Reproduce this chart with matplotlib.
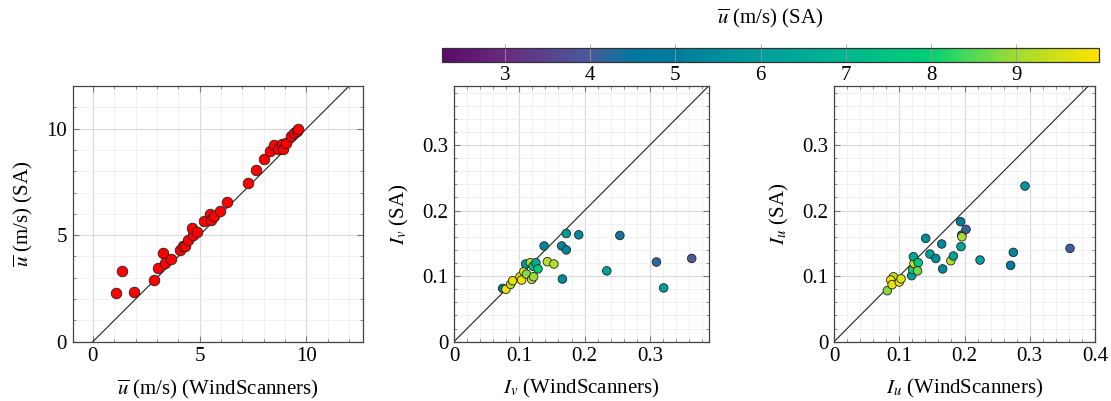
import numpy as np
import matplotlib
matplotlib.use('Agg')
from matplotlib import pyplot as plt
from matplotlib.colors import LinearSegmentedColormap, Normalize
from matplotlib.ticker import MultipleLocator

plt.rcParams['font.family'] = ['Liberation Serif', 'DejaVu Serif']
plt.rcParams['mathtext.fontset'] = 'stix'
plt.rcParams['font.size'] = 15

# mean wind speed, WindScanners vs sonic anemometer (SA)
u_ws = [1.07, 1.35, 1.91, 2.85, 3.06, 3.29, 3.40, 3.68, 4.08, 4.20, 4.31, 4.44,
        4.67, 4.65, 4.86, 5.20, 5.49, 5.52, 5.67, 5.93, 6.27, 7.24, 7.65, 8.02,
        8.28, 8.46, 8.65, 8.86, 8.90, 9.06, 9.28, 9.40, 9.56, 9.59]
u_sa = [2.28, 3.30, 2.35, 2.90, 3.45, 4.16, 3.69, 3.88, 4.32, 4.47, 4.50, 4.76,
        5.02, 5.32, 5.13, 5.65, 6.01, 5.73, 5.92, 6.12, 6.55, 7.46, 8.08, 8.59,
        8.95, 9.25, 9.03, 9.26, 9.03, 9.31, 9.65, 9.80, 9.89, 9.97]

# lateral turbulence intensity, colour = mean speed SA
iv_ws = [0.0745, 0.0796, 0.0867, 0.0898, 0.101, 0.1036, 0.107, 0.1097, 0.111, 0.117,
         0.119, 0.121, 0.122, 0.1255, 0.1286, 0.138, 0.143, 0.153, 0.165, 0.166,
         0.172, 0.172, 0.191, 0.234, 0.254, 0.310, 0.321, 0.364]
iv_sa = [0.0813, 0.080, 0.0874, 0.093, 0.099, 0.094, 0.1068, 0.1185, 0.103, 0.1205,
         0.095, 0.115, 0.099, 0.1205, 0.111, 0.146, 0.122, 0.1185, 0.146, 0.0956,
         0.165, 0.140, 0.163, 0.108, 0.162, 0.1215, 0.082, 0.127]
iv_c = [5.0, 9.8, 9.3, 9.7, 9.6, 9.8, 9.7, 5.8, 8.8, 9.2,
        9.3, 7.5, 9.0, 6.5, 7.8, 5.3, 9.2, 9.2, 5.3, 5.4,
        5.8, 5.3, 5.4, 6.2, 4.4, 4.2, 6.0, 4.0]

# longitudinal turbulence intensity
iu_ws = [0.0817, 0.0899, 0.091, 0.0869, 0.089, 0.100, 0.1027, 0.119, 0.1206, 0.1226,
         0.1216, 0.129, 0.128, 0.1405, 0.147, 0.156, 0.165, 0.1665, 0.179, 0.183,
         0.194, 0.1946, 0.1957, 0.196, 0.2023, 0.2238, 0.2707, 0.2748, 0.2927, 0.3617]
iu_sa = [0.0778, 0.091, 0.099, 0.094, 0.087, 0.091, 0.096, 0.1007, 0.110, 0.1195,
         0.1296, 0.1205, 0.108, 0.1576, 0.1337, 0.127, 0.149, 0.111, 0.1235, 0.1307,
         0.183, 0.145, 0.1627, 0.160, 0.1713, 0.1245, 0.1164, 0.1362, 0.2374, 0.1423]
iu_c = [8.8, 9.6, 9.3, 9.8, 9.7, 9.7, 9.6, 6.2, 8.0, 9.5,
        6.5, 7.8, 8.7, 5.5, 6.1, 5.4, 5.3, 5.3, 9.2, 6.2,
        5.0, 6.3, 5.1, 9.1, 4.1, 6.0, 5.0, 5.3, 5.7, 4.1]

cmin, cmax = 2.26, 9.97
stops = [(2.26, '#5a0a6a'), (3.0, '#6a2a80'), (4.0, '#485a9c'), (4.5, '#00789f'),
         (5.0, '#007c9d'), (6.0, '#009e9c'), (7.0, '#00b690'), (8.0, '#00d074'),
         (8.3, '#30d862'), (9.0, '#a0dc30'), (9.97, '#ffe200')]
cmap = LinearSegmentedColormap.from_list(
    'pgfviridis', [((v - cmin) / (cmax - cmin), c) for v, c in stops])
norm = Normalize(cmin, cmax)

fig = plt.figure(figsize=(11.11, 4.01), dpi=100)
ax1 = fig.add_axes([0.0653, 0.1479, 0.2615, 0.6377])
ax2 = fig.add_axes([0.4086, 0.1479, 0.2293, 0.6377])
ax3 = fig.add_axes([0.7507, 0.1479, 0.2349, 0.6377])
cax = fig.add_axes([0.3976, 0.846, 0.5916, 0.0334])


def style(ax, major, minor):
    ax.xaxis.set_major_locator(MultipleLocator(major))
    ax.yaxis.set_major_locator(MultipleLocator(major))
    ax.xaxis.set_minor_locator(MultipleLocator(minor))
    ax.yaxis.set_minor_locator(MultipleLocator(minor))
    ax.grid(True, which='major', color='#dadada', lw=0.8)
    ax.grid(True, which='minor', color='#efefef', lw=0.6)
    ax.set_axisbelow(True)
    ax.tick_params(which='both', direction='in', top=True, right=True, color='#777777')
    ax.tick_params(which='major', length=4, labelsize=15, pad=4)
    ax.tick_params(which='minor', length=2.5)
    for s in ax.spines.values():
        s.set_color('#444444')
        s.set_linewidth(0.9)
    ax.xaxis.set_major_formatter(plt.FuncFormatter(lambda v, p: '%g' % round(v, 3)))
    ax.yaxis.set_major_formatter(plt.FuncFormatter(lambda v, p: '%g' % round(v, 3)))


style(ax1, 5, 1)
ax1.plot([0, 12], [0, 12], color='#222222', lw=0.8, zorder=2)
ax1.scatter(u_ws, u_sa, s=58, c='#ff0000', edgecolors='#222222', linewidths=0.6, zorder=3)
ax1.set_xlim(-0.95, 12.65)
ax1.set_ylim(0, 12)
ax1.set_xlabel(r'$\overline{u}$ (m/s) (WindScanners)', labelpad=8)
ax1.set_ylabel(r'$\overline{u}$ (m/s) (SA)', labelpad=8)

style(ax2, 0.1, 0.02)
ax2.plot([0, 0.4], [0, 0.4], color='#222222', lw=0.8, zorder=2)
ax2.scatter(iv_ws, iv_sa, s=38, c=iv_c, cmap=cmap, norm=norm,
            edgecolors='#222222', linewidths=0.6, zorder=3)
ax2.set_xlim(0, 0.39)
ax2.set_ylim(0, 0.39)
ax2.set_xlabel(r'$I_v$ (WindScanners)', labelpad=8)
ax2.set_ylabel(r'$I_v$ (SA)', labelpad=8)

style(ax3, 0.1, 0.02)
ax3.plot([0, 0.4], [0, 0.4], color='#222222', lw=0.8, zorder=2)
ax3.scatter(iu_ws, iu_sa, s=38, c=iu_c, cmap=cmap, norm=norm,
            edgecolors='#222222', linewidths=0.6, zorder=3)
ax3.set_xlim(0, 0.4)
ax3.set_ylim(0, 0.39)
ax3.set_xlabel(r'$I_u$ (WindScanners)', labelpad=8)
ax3.set_ylabel(r'$I_u$ (SA)', labelpad=8)

sm = matplotlib.cm.ScalarMappable(norm=norm, cmap=cmap)
cb = fig.colorbar(sm, cax=cax, orientation='horizontal')
cb.set_ticks([3, 4, 5, 6, 7, 8, 9])
cb.ax.tick_params(direction='in', length=13, width=0.6, color='#999999', labelsize=15, pad=3)
cb.outline.set_edgecolor('#333333')
cb.outline.set_linewidth(0.9)
fig.text(0.6934, 0.955, r'$\overline{u}$ (m/s) (SA)', ha='center', va='center', fontsize=15)

plt.savefig('out.png', dpi=100)
